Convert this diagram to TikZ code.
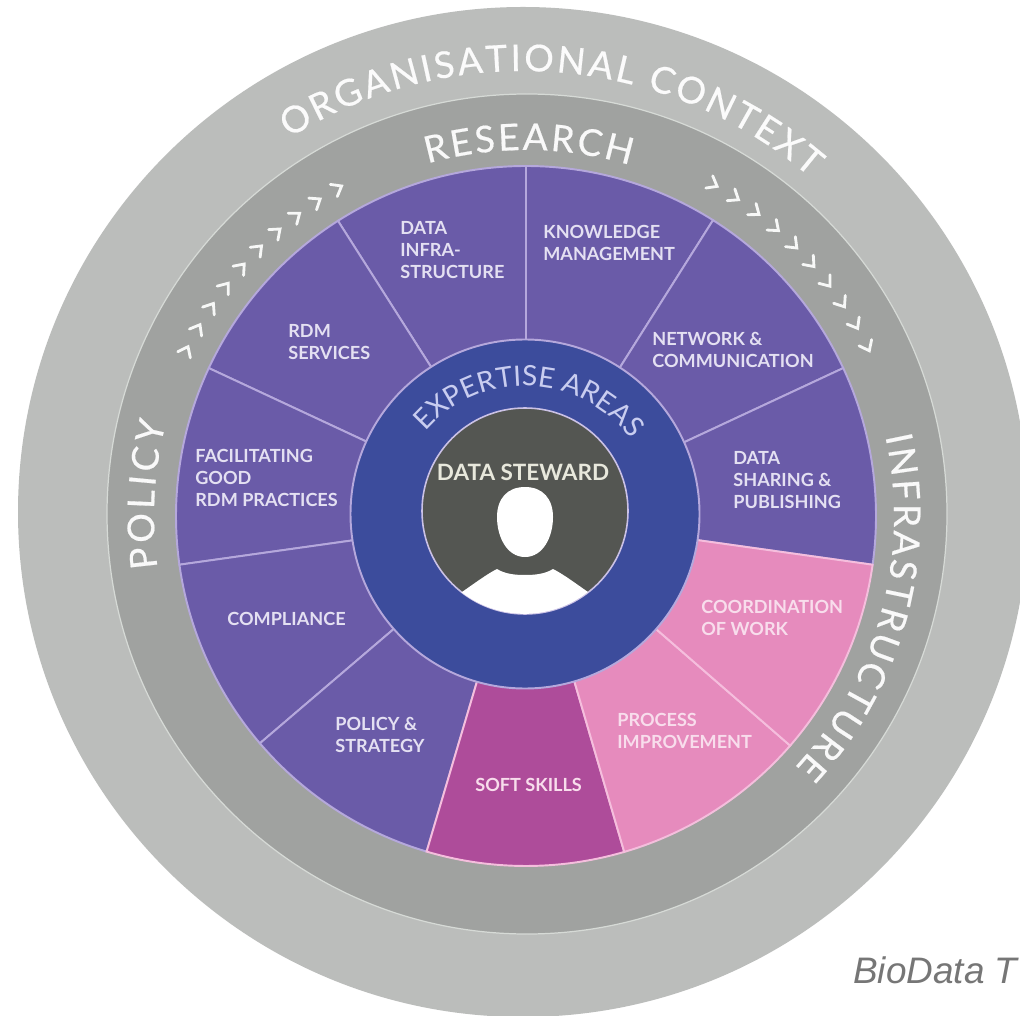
\documentclass[tikz,border=0pt]{standalone}
\usepackage{fontspec}
\setmainfont{Lato}
\newfontfamily\bioface{Liberation Sans}
\newfontfamily\ringface[FakeBold=0.5]{Lato}
\usetikzlibrary{decorations.text}
\definecolor{outerring}{HTML}{BBBDBB}
\definecolor{innerring}{HTML}{A0A2A0}
\definecolor{ringline}{HTML}{D6DAD6}
\definecolor{purplearea}{HTML}{6A5BA8}
\definecolor{softarea}{HTML}{AE4C9A}
\definecolor{pinkarea}{HTML}{E68BBD}
\definecolor{bluering}{HTML}{3C4C9C}
\definecolor{darkcore}{HTML}{545652}
\definecolor{lavline}{HTML}{B5A8DC}
\definecolor{pinkline}{HTML}{F5BEDD}
\definecolor{labeltext}{HTML}{E4E0F2}
\definecolor{pinktext}{HTML}{F8DDEC}
\definecolor{expertise}{HTML}{C9CDF0}
\definecolor{stewardtext}{HTML}{E8E8DC}
\definecolor{biotext}{HTML}{767676}
\newcommand\ringfontA{\ringface\fontsize{21}{24}\selectfont\color{white!94!outerring}}
\newcommand\ringfontB{\ringface\fontsize{21}{24}\selectfont\color{white!94!innerring}}
\newcommand\ringfontC{\fontsize{16}{20}\selectfont\color{expertise}}
\tikzset{
  x=0.02cm,y=0.02cm,
  area label/.style={anchor=west,inner sep=0pt,align=left,text=labeltext,
    font=\bfseries\fontsize{10.3}{12.4}\selectfont},
  pink label/.style={area label,text=pinktext},
  sector line/.style={draw=lavline,line width=1.1pt},
  pink sector/.style={draw=pinkline,line width=1.1pt},
  chevron/.style={draw=white!92!innerring,line width=1.6pt,line cap=round,line join=miter},
  ring text/.style={decoration={text along path,text align={fit to path},
     text format delimiters={|}{|},text={#1}},decorate},
}
\begin{document}
\begin{tikzpicture}
\useasboundingbox (0,0) rectangle (1020,1015);
\clip (0,0) rectangle (1020,1015);
\fill[white] (0,0) rectangle (1020,1015);
\coordinate (C) at (526,499);
% rings
\fill[outerring] (523,503) circle[radius=505];
\filldraw[fill=innerring,draw=ringline,line width=0.7pt] (527,501) circle[radius=420];
% sectors
\foreach \aa/\bb/\cc/\st in {
  90/57.7/purplearea/sector line,
  57.7/25/purplearea/sector line,
  25/-8/purplearea/sector line,
  122.5/90/purplearea/sector line,
  155/122.5/purplearea/sector line,
  188/155/purplearea/sector line,
  220.5/188/purplearea/sector line,
  253.5/220.5/purplearea/sector line}
  {\path[fill=\cc,\st] (C) -- ++(\aa:350) arc[start angle=\aa,end angle=\bb,radius=350] -- cycle;}
\path[fill=softarea,pink sector] (C) -- ++(286.3:350) arc[start angle=286.3,end angle=253.5,radius=350] -- cycle;
\path[fill=pinkarea,pink sector] (C) -- ++(319:350) arc[start angle=319,end angle=286.3,radius=350] -- cycle;
\path[fill=pinkarea,pink sector] (C) -- ++(352:350) arc[start angle=352,end angle=319,radius=350] -- cycle;
% centre
\filldraw[fill=bluering,draw=lavline,line width=1.1pt] (525,501) circle[radius=174.5];
\filldraw[fill=darkcore,draw=lavline!70!white,line width=0.9pt] (525,504) circle[radius=103];
% person
\fill[white] (525,528) .. controls (543,528) and (553,516) .. (553,498)
  .. controls (553,478) and (543,458) .. (525,458)
  .. controls (507,458) and (497,478) .. (497,498)
  .. controls (497,516) and (507,528) .. (525,528) -- cycle;
\fill[white] (462,423) .. controls (475,432) and (487,441) .. (497,446)
  .. controls (505,441) and (515,440) .. (525,440)
  .. controls (535,440) and (545,441) .. (553,446)
  .. controls (563,441) and (575,432) .. (588,423)
  arc[start angle=-52,end angle=-128,radius=103] -- cycle;
% ring texts
\path[ring text={|\ringfontA|ORGANISATIONAL CONTEXT}]
  (523,503) ++(122:441) arc[start angle=122,end angle=49.4,radius=441];
\path[ring text={|\ringfontB|RESEARCH}]
  (C) ++(105.6:366) arc[start angle=105.6,end angle=73.5,radius=366];
\path[ring text={|\ringfontB|POLICY}]
  (C) ++(188:372) arc[start angle=188,end angle=165.5,radius=372];
\path[ring text={|\ringfontB|INFRASTRUCTURE}]
  (C) ++(12.5:368) arc[start angle=12.5,end angle=-43,radius=368];
\path[ring text={|\ringfontC|EXPERTISE AREAS}]
  (525,497) ++(139:132) arc[start angle=139,end angle=39.5,radius=132];
% chevrons
\begin{scope}[shift={(526,499)}]
\foreach \i in {0,...,9}{
  \pgfmathsetmacro\aL{154-3.8*\i}
  \pgfmathsetmacro\aR{60.5-3.8*\i}
  \draw[chevron,shift={(\aL:378)},rotate=\aL-90] (-5,7) -- (4,0) -- (-5,-7);
  \draw[chevron,shift={(\aR:381)},rotate=\aR-90] (-5,7) -- (4,0) -- (-5,-7);
}
\end{scope}
% labels
\node[area label] (knowledge) at (543,772) {KNOWLEDGE\\MANAGEMENT};
\node[area label] (network) at (652,665) {NETWORK \&\\COMMUNICATION};
\node[area label] (sharing) at (733,535) {DATA\\SHARING \&\\PUBLISHING};
\node[pink label] (coordination) at (701,397) {COORDINATION\\OF WORK};
\node[pink label] (process) at (617,284) {PROCESS\\IMPROVEMENT};
\node[pink label] (soft) at (475,230) {SOFT SKILLS};
\node[area label] (policy) at (335,280) {POLICY \&\\STRATEGY};
\node[area label] (compliance) at (227,396) {COMPLIANCE};
\node[area label] (facilitating) at (195,537) {FACILITATING\\GOOD\\RDM PRACTICES};
\node[area label] (services) at (288,673) {RDM\\SERVICES};
\node[area label] (infra) at (400,765) {DATA\\INFRA-\\STRUCTURE};
\node[inner sep=0pt,text=stewardtext,font=\bfseries\fontsize{12.8}{15}\selectfont] (steward) at (523,543) {DATA STEWARD};
\node[anchor=base west,inner sep=0pt,text=biotext,font=\bioface\itshape\fontsize{21}{24}\selectfont] (biodata) at (853,32) {BioData T};
\end{tikzpicture}
\end{document}
